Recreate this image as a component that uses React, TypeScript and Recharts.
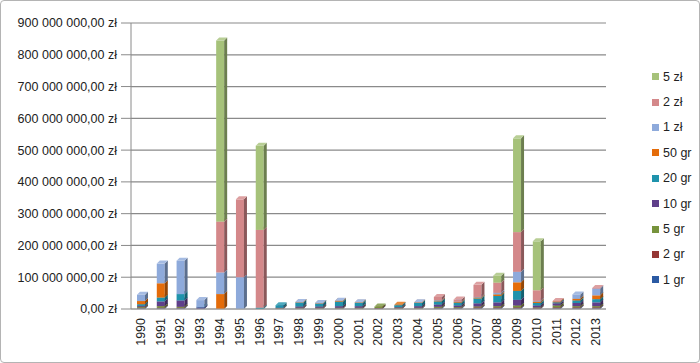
import React from 'react';
import { BarChart, Bar, XAxis, YAxis, CartesianGrid } from 'recharts';

// values in millions of złoty
const years = [
  '1990', '1991', '1992', '1993', '1994', '1995', '1996', '1997', '1998', '1999', '2000', '2001',
  '2002', '2003', '2004', '2005', '2006', '2007', '2008', '2009', '2010', '2011', '2012', '2013',
];
const gr1 = [2, 2, 2, 1, 0, 0, 0, 1, 1, 1, 1, 1, 1, 1, 1, 2, 2, 2, 2, 2, 1, 2, 2, 2];
const gr2 = [2, 2, 2, 0, 0, 0, 0, 1, 1, 1, 1, 1, 2, 1, 1, 2, 2, 3, 3, 3, 2, 3, 3, 3];
const gr5 = [3, 5, 3, 0, 0, 0, 0, 1, 2, 2, 2, 2, 5, 2, 2, 3, 2, 3, 4, 6, 2, 6, 4, 4];
const gr10 = [3, 15, 20, 4, 0, 0, 0, 1, 4, 4, 5, 5, 0, 2, 5, 7, 5, 10, 12, 18, 6, 7, 10, 12];
const gr20 = [5, 12, 20, 1, 0, 0, 4, 8, 12, 9, 14, 10, 0, 6, 10, 10, 9, 15, 20, 28, 8, 3, 8, 10];
const gr50 = [10, 45, 0, 0, 47, 0, 0, 0, 1, 1, 2, 1, 0, 1, 1, 2, 2, 3, 5, 27, 4, 2, 5, 12];
const zl1 = [20, 62, 105, 22, 68, 100, 0, 0, 1, 1, 1, 1, 0, 0, 1, 2, 1, 2, 5, 33, 3, 0, 14, 21];
const zl2 = [0, 0, 0, 0, 160, 245, 245, 0, 0, 0, 0, 0, 0, 0, 0, 10, 7, 38, 32, 125, 33, 2, 0, 2];
const zl5 = [0, 0, 0, 0, 570, 0, 265, 0, 0, 0, 0, 0, 0, 0, 0, 0, 0, 0, 22, 295, 154, 0, 0, 0];

const yTicks = [0, 100, 200, 300, 400, 500, 600, 700, 800, 900];

const series = [
  { key: '1 gr', values: gr1, color: '#2b5aa3' },
  { key: '2 gr', values: gr2, color: '#953735' },
  { key: '5 gr', values: gr5, color: '#77933c' },
  { key: '10 gr', values: gr10, color: '#5f3f8a' },
  { key: '20 gr', values: gr20, color: '#1f93ac' },
  { key: '50 gr', values: gr50, color: '#e46c0a' },
  { key: '1 zł', values: zl1, color: '#8eaadb' },
  { key: '2 zł', values: zl2, color: '#d4888a' },
  { key: '5 zł', values: zl5, color: '#a6c27a' },
];

const data = years.map((year, i) => {
  const row: any = { year };
  series.forEach((s) => (row[s.key] = s.values[i]));
  return row;
});

const font = '"Liberation Sans", Arial, sans-serif';

const formatZl = (v: number) =>
  String(v * 1000000).replace(/\B(?=(\d{3})+(?!\d))/g, ' ') + ',00 zł';

const shade = (hex: string, amt: number) => {
  const n = parseInt(hex.slice(1), 16);
  const ch = [(n >> 16) & 255, (n >> 8) & 255, n & 255].map((c) =>
    Math.round(amt < 0 ? c * (1 + amt) : c + (255 - c) * amt)
  );
  return '#' + ch.map((c) => c.toString(16).padStart(2, '0')).join('');
};

const Bar3D = (props: any) => {
  const { x, y, width, height, fill } = props;
  if (!height || height <= 0) return null;
  const d = 3;
  return (
    <g>
      <rect x={x} y={y} width={width} height={height} fill={fill} />
      <polygon
        points={`${x + width},${y} ${x + width + d},${y - d} ${x + width + d},${y + height - d} ${x + width},${y + height}`}
        fill={shade(fill, -0.35)}
      />
      <polygon
        points={`${x},${y} ${x + d},${y - d} ${x + width + d},${y - d} ${x + width},${y}`}
        fill={shade(fill, 0.2)}
      />
    </g>
  );
};

const YearTick = (props: any) => {
  const { x, y, payload } = props;
  return (
    <text
      x={x}
      y={y}
      transform={`rotate(-90, ${x}, ${y})`}
      textAnchor="end"
      dominantBaseline="central"
      fontFamily={font}
      fontSize={12.5}
      fill="#222"
    >
      {payload.value}
    </text>
  );
};

export default function App() {
  const legendItems = [...series].reverse();
  return (
    <div
      style={{
        position: 'absolute',
        left: 0,
        top: 0,
        width: 700,
        height: 363,
        boxSizing: 'border-box',
        border: '1px solid #b4b4b4',
        borderRadius: 4,
        background: '#fff',
      }}
    >
      <div style={{ position: 'absolute', left: -1, top: -1 }}>
        <BarChart
          width={700}
          height={363}
          data={data}
          margin={{ top: 23, right: 94, bottom: 8, left: 0 }}
          barSize={8}
        >
          <CartesianGrid vertical={false} stroke="#8a8a8a" strokeWidth={1.2} />
          <XAxis
            dataKey="year"
            interval={0}
            height={46}
            tickLine={false}
            tickSize={4}
            tickMargin={5}
            axisLine={{ stroke: '#a0a0a0' }}
            tick={<YearTick />}
          />
          <YAxis
            width={131}
            domain={[0, 900]}
            ticks={yTicks}
            tickFormatter={formatZl}
            tickSize={10}
            tickMargin={4}
            tickLine={{ stroke: '#8a8a8a' }}
            axisLine={{ stroke: '#8a8a8a' }}
            tick={{ fontFamily: font, fontSize: 12.5, fill: '#222' }}
            interval={0}
          />
          {series.map((s) => (
            <Bar
              key={s.key}
              dataKey={s.key}
              stackId="a"
              fill={s.color}
              shape={<Bar3D />}
              isAnimationActive={false}
            />
          ))}
        </BarChart>
      </div>
      <div style={{ position: 'absolute', left: 651, top: 63, fontFamily: font, fontSize: 12.5, color: '#222' }}>
        {legendItems.map((s) => (
          <div key={s.key} style={{ height: 25.4, display: 'flex', alignItems: 'center' }}>
            <span style={{ width: 7, height: 7, background: s.color, display: 'inline-block', marginRight: 4 }} />
            <span>{s.key}</span>
          </div>
        ))}
      </div>
    </div>
  );
}
